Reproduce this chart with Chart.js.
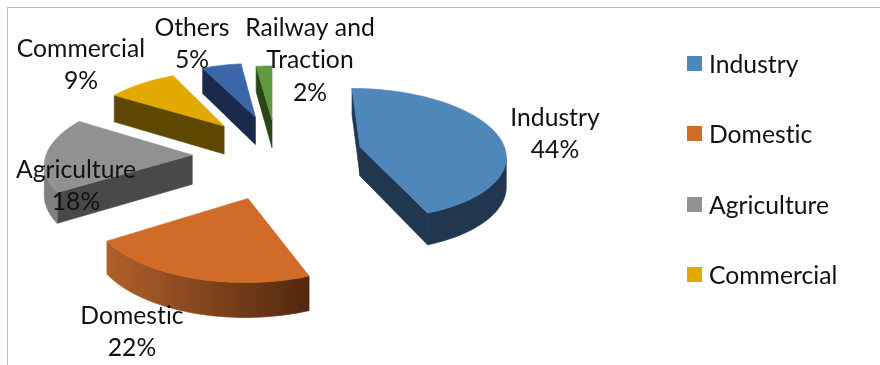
<!DOCTYPE html>
<html>
<head>
<meta charset="utf-8">
<title>Electricity consumption by sector</title>
<style>
    html, body { margin: 0; padding: 0; background: #fff; overflow: hidden; }
    #wrap { position: relative; width: 880px; height: 365px; }
    #frame {
        position: absolute; left: 7px; top: 7px; right: 0; bottom: 0;
        border-left: 1px solid #bdbdbd; border-top: 1px solid #bdbdbd;
    }
    canvas { position: absolute; left: 0; top: 0; }
</style>
</head>
<body>
<div id="wrap">
    <div id="frame"></div>
    <canvas id="sectorChart" width="880" height="365"></canvas>
</div>
<script src="https://cdn.jsdelivr.net/npm/chart.js@4/dist/chart.umd.min.js"></script>
<script>
const sectors = ['Industry', 'Domestic', 'Agriculture', 'Commercial', 'Others', 'Railway and Traction'];
const shares = [44, 22, 18, 9, 5, 2];
const legendSectors = ['Industry', 'Domestic', 'Agriculture', 'Commercial'];

const topColors = ['#4f87ba', '#d06c28', '#919191', '#e2a900', '#3c66aa', '#5f9b3e'];
const sideColors = ['#20374f', '#5c2e10', '#494949', '#5e4700', '#192a4b', '#2a4619'];
const rimColors = ['#20374f', ['#b0602a', '#52280e'], '#7f7f7f', '#5e4700', '#192a4b', '#2a4619'];

// exploded position of each slice, in units of the pie radius
const shiftX = [0.61, -0.154, -0.546, -0.343, -0.121, 0];
const shiftY = [-0.046, 0.694, 0.077, -0.383, -0.535, -0.484];

// where each data label goes: centre x, first line y, wrapped lines
const labelSpots = [
    { x: 555, y: 118, lines: ['Industry'] },
    { x: 132, y: 316, lines: ['Domestic'] },
    { x: 76, y: 170, lines: ['Agriculture'] },
    { x: 81, y: 49, lines: ['Commercial'] },
    { x: 192, y: 28, lines: ['Others'] },
    { x: 310, y: 28, lines: ['Railway and', 'Traction'] }
];

const FONT = '24.7px Lato, Carlito, sans-serif';
const LINE_HEIGHT = 32.5;

// perspective view of the pie plane
const view = { vanishX: 272, baseY: 150, radiusX: 145, radiusY: 65, persp: 0.1, depth: 29 };

function project(x, y, lift) {
    const s = 1 / (1 - view.persp * y);
    return {
        x: view.vanishX + view.radiusX * x * s,
        y: view.baseY + view.radiusY * y * s + lift * view.depth * s
    };
}

// outline of one slice, clockwise on screen, apex first
function sliceOutline(arc, i, lift) {
    const start = arc.startAngle + Math.PI / 2;
    const end = arc.endAngle + Math.PI / 2;
    const steps = Math.max(3, Math.ceil((end - start) / (Math.PI / 180)));
    const pts = [project(shiftX[i], shiftY[i], lift)];
    for (let k = 0; k <= steps; k++) {
        const t = start + (end - start) * k / steps;
        pts.push(project(shiftX[i] + Math.sin(t), shiftY[i] - Math.cos(t), lift));
    }
    return pts;
}

function fillPoly(ctx, pts, color) {
    ctx.beginPath();
    pts.forEach((p, n) => (n ? ctx.lineTo(p.x, p.y) : ctx.moveTo(p.x, p.y)));
    ctx.closePath();
    ctx.fillStyle = color;
    ctx.fill();
    // hairline of the same colour closes the gap between neighbouring faces
    ctx.strokeStyle = color;
    ctx.lineWidth = 0.7;
    ctx.stroke();
}

function drawSlice(ctx, arc, i) {
    const top = sliceOutline(arc, i, 0);
    const bottom = sliceOutline(arc, i, 1);
    const n = top.length;

    let rim = rimColors[i];
    if (Array.isArray(rim)) {
        const xs = top.map(p => p.x);
        const grad = ctx.createLinearGradient(Math.min(...xs), 0, Math.max(...xs), 0);
        grad.addColorStop(0, rim[0]);
        grad.addColorStop(1, rim[1]);
        rim = grad;
    }

    // a face looks towards the viewer when its top edge runs right to left
    const facing = (a, b) => top[b].x < top[a].x;

    if (facing(0, 1)) fillPoly(ctx, [top[0], top[1], bottom[1], bottom[0]], sideColors[i]);
    if (facing(n - 1, 0)) fillPoly(ctx, [top[n - 1], top[0], bottom[0], bottom[n - 1]], sideColors[i]);

    // the curved wall goes in as one piece so the gradient has no seams
    let run = [];
    for (let k = 1; k < n; k++) {
        if (k < n - 1 && facing(k, k + 1)) {
            run.push(k);
        } else if (run.length) {
            run.push(k);
            const upper = run.map(r => top[r]);
            const lower = run.map(r => bottom[r]).reverse();
            fillPoly(ctx, upper.concat(lower), rim);
            run = [];
        }
    }
    fillPoly(ctx, top, topColors[i]);
}

const pie3d = {
    id: 'pie3d',
    beforeDatasetDraw(chart, args) {
        const ctx = chart.ctx;
        args.meta.data.forEach((arc, i) => drawSlice(ctx, arc, i));
        return false;
    },
    afterDraw(chart) {
        const ctx = chart.ctx;
        ctx.save();
        ctx.font = FONT;
        ctx.letterSpacing = '0.01px'; // keeps Lato from joining "ti" into a ligature
        ctx.fillStyle = '#111';
        ctx.textBaseline = 'middle';

        // data labels
        ctx.textAlign = 'center';
        labelSpots.forEach((spot, i) => {
            const lines = spot.lines.concat(shares[i] + '%');
            lines.forEach((line, n) => ctx.fillText(line, spot.x, spot.y + n * LINE_HEIGHT));
        });

        // legend
        ctx.textAlign = 'left';
        legendSectors.forEach((name, n) => {
            const y = Math.round(64 + n * 70.34);
            ctx.fillStyle = topColors[sectors.indexOf(name)];
            ctx.fillRect(687, y - 8, 15, 15);
            ctx.fillStyle = '#111';
            ctx.fillText(name, 709, y + 1);
        });
        ctx.restore();
    }
};

const ctx = document.getElementById('sectorChart').getContext('2d');
new Chart(ctx, {
    type: 'pie',
    data: {
        labels: sectors,
        datasets: [{
            data: shares,
            backgroundColor: topColors,
            borderWidth: 0
        }]
    },
    options: {
        responsive: false,
        animation: false,
        plugins: {
            legend: { display: false },
            tooltip: { enabled: false }
        }
    },
    plugins: [pie3d]
});
</script>
</body>
</html>
